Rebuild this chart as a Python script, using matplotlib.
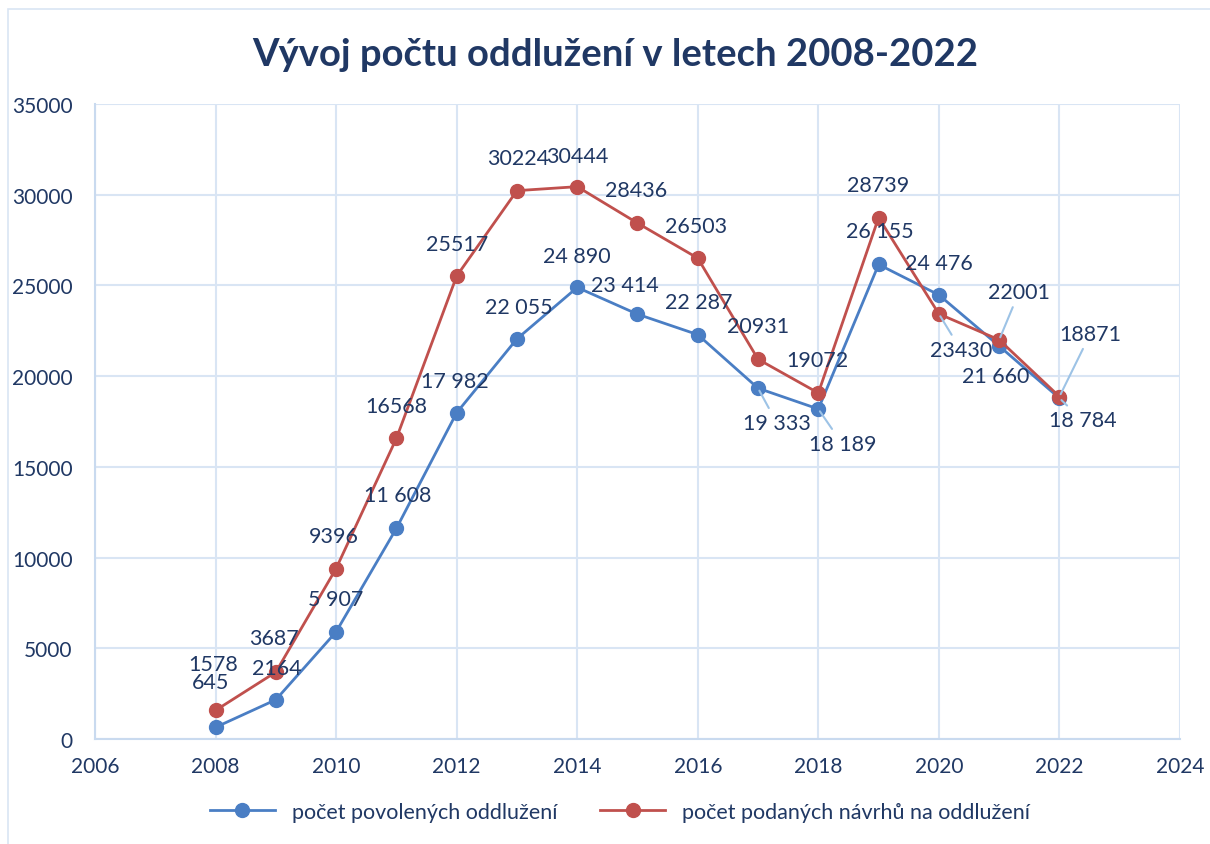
import matplotlib
matplotlib.use("Agg")
import matplotlib.pyplot as plt
from matplotlib.patches import Rectangle

years = [2008, 2009, 2010, 2011, 2012, 2013, 2014, 2015, 2016, 2017, 2018, 2019, 2020, 2021, 2022]
povolene = [645, 2164, 5907, 11608, 17982, 22055, 24890, 23414, 22287, 19333, 18189, 26155, 24476, 21660, 18784]
podane = [1578, 3687, 9396, 16568, 25517, 30224, 30444, 28436, 26503, 20931, 19072, 28739, 23430, 22001, 18871]
povolene_labels = ["645", "2164", "5 907", "11 608", "17 982", "22 055", "24 890", "23 414", "22 287",
                   "19 333", "18 189", "26 155", "24 476", "21 660", "18 784"]
series_names = ["počet povolených oddlužení", "počet podaných návrhů na oddlužení"]
title = "Vývoj počtu oddlužení v letech 2008-2022"

# label offsets in pixels (dx, dy, leader)
blue_off = [(-5, 45, 0), (1, 32, 0), (0, 33, 0), (1, 33, 0), (-2, 32, 0), (2, 32, 0), (0, 31, 0),
            (-13, 29, 0), (1, 33, 0), (19, -35, 1), (24, -35, 1), (1, 33, 0), (0, 32, 0), (-3, -30, 0), (23, -22, 1)]
red_off = [(-2, 46, 0), (-2, 34, 0), (-2, 33, 0), (0, 32, 0), (0, 32, 0), (1, 33, 0), (0, 31, 0),
           (-1, 33, 0), (-2, 32, 0), (0, 33, 0), (-1, 33, 0), (0, 33, 0), (22, -36, 1), (20, 48, 1), (31, 63, 1)]

FONT = "Lato"
TXT = "#203864"
BLUE = "#4A7EC4"
RED = "#C0504D"
GRID = "#D9E5F4"
LEADER = "#9DC3E6"

plt.rcParams['font.family'] = [FONT, 'DejaVu Sans']

fig = plt.figure(figsize=(12.1, 8.45), dpi=100)
ax = fig.add_axes([95/1210, 1-740/845, (1180-95)/1210, (740-105)/845])

fig.patches.append(Rectangle((8/1210, -0.05), 1.1, 1-10/845+0.05, transform=fig.transFigure,
                             fill=False, edgecolor="#D9E5F4", lw=1.2))

ax.plot(years, povolene, color=BLUE, lw=2, marker='o', ms=10, mfc=BLUE, mec=BLUE, label=series_names[0], zorder=3)
ax.plot(years, podane, color=RED, lw=2, marker='o', ms=10, mfc=RED, mec=RED, label=series_names[1], zorder=4)

for x, v, lab, (dx, dy, ld) in zip(years, povolene, povolene_labels, blue_off):
    kw = {}
    if ld:
        kw['arrowprops'] = dict(arrowstyle='-', color=LEADER, lw=1.5, shrinkA=2, shrinkB=2)
    ax.annotate(lab, (x, v), xytext=(dx, dy), textcoords='offset pixels',
                ha='center', va='center', fontsize=15.5, color=TXT, zorder=5, **kw)

for x, v, (dx, dy, ld) in zip(years, podane, red_off):
    kw = {}
    if ld:
        kw['arrowprops'] = dict(arrowstyle='-', color=LEADER, lw=1.5, shrinkA=2, shrinkB=2)
    ax.annotate(str(v), (x, v), xytext=(dx, dy), textcoords='offset pixels',
                ha='center', va='center', fontsize=15.5, color=TXT, zorder=5, **kw)

ax.set_xlim(2006, 2024)
ax.set_ylim(0, 35000)
ax.set_xticks(range(2006, 2025, 2))
ax.set_yticks(range(0, 35001, 5000))
ax.grid(True, color=GRID, lw=1.5)
ax.set_axisbelow(True)
for s in ['top', 'right']:
    ax.spines[s].set_visible(False)
for s in ['left', 'bottom']:
    ax.spines[s].set_color("#C9DAEF")
    ax.spines[s].set_linewidth(1.5)
ax.tick_params(length=0, labelsize=15, labelcolor=TXT, pad=12)
ax.tick_params(axis='y', pad=16)

fig.text(615/1210, 1-55/845, title, ha='center', va='center', fontsize=27.5, fontweight='bold', color=TXT)

leg = fig.legend(loc='center', bbox_to_anchor=(620/1210, 1-813/845), ncol=2, frameon=False,
                 fontsize=15.5, labelcolor=TXT, handlelength=3, columnspacing=2.0)

fig.savefig("out.png", dpi=100)
